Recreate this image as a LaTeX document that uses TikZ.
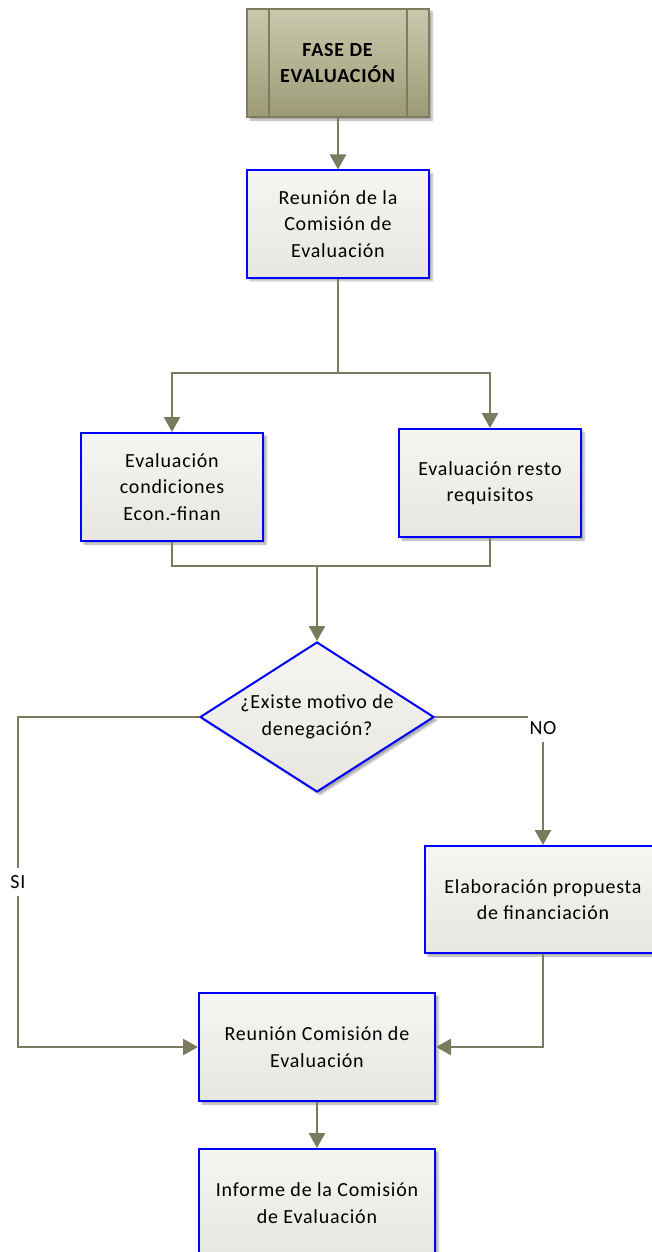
\documentclass[tikz,border=0pt]{standalone}
\usepackage{fontspec}
\setmainfont{Carlito}[LetterSpace=4.0]
\usetikzlibrary{arrows.meta,shapes.geometric,shadows.blur}

\definecolor{flowline}{RGB}{122,122,94}
\definecolor{boxblue}{RGB}{0,0,255}
\definecolor{boxtop}{RGB}{246,245,242}
\definecolor{boxbot}{RGB}{232,230,225}
\definecolor{fasetop}{RGB}{202,201,174}
\definecolor{fasebot}{RGB}{156,155,118}
\definecolor{faseline}{RGB}{125,124,92}

\tikzset{
  boxfont/.style={font=\fontsize{20}{26.5}\selectfont},
  boxshadow/.style={blur shadow={shadow xshift=3pt,shadow yshift=-3pt,shadow blur steps=4,shadow opacity=35}},
  procbox/.style={draw=boxblue, line width=2pt, top color=boxtop, bottom color=boxbot,
    minimum width=182pt, minimum height=107pt, align=center, inner sep=2pt, boxfont, boxshadow},
  fasebox/.style={draw=faseline, line width=1.5pt, top color=fasetop, bottom color=fasebot,
    minimum width=182pt, minimum height=108pt, align=center, boxfont, boxshadow,
    path picture={
      \draw[faseline, line width=1.5pt] ([xshift=22pt]path picture bounding box.north west) -- ([xshift=22pt]path picture bounding box.south west);
      \draw[faseline, line width=1.5pt] ([xshift=-22pt]path picture bounding box.north east) -- ([xshift=-22pt]path picture bounding box.south east);
    }},
  decision/.style={diamond, draw=boxblue, line width=2pt, top color=boxtop, bottom color=boxbot,
    minimum width=234pt, minimum height=150pt, aspect=1.56, inner sep=0pt, align=center, boxfont, boxshadow},
  conn/.style={draw=flowline, line width=2.5pt},
  flow/.style={conn, -{Triangle[length=15pt,width=16pt]}},
  lbl/.style={fill=white, inner sep=2pt, minimum height=28pt, text=black, font=\fontsize{20}{22}\selectfont}
}

\begin{document}
\begin{tikzpicture}[x=1pt,y=-1pt]
% Page size of the reference
\useasboundingbox (0,0) rectangle (652,1252);

% Boxes
\node[fasebox] (fase) at (338,63) {\textbf{FASE DE}\\\textbf{EVALUACIÓN}};
\node[procbox] (reunion) at (338,224) {Reunión de la\\Comisión de\\Evaluación};
\node[procbox, minimum height=108pt] (econ) at (172,487) {Evaluación\\condiciones\\Econ.-finan};
\node[procbox, minimum height=108pt] (resto) at (490,483) {Evaluación resto\\requisitos};
\node[decision] (motivo) at (317,717) {¿Existe motivo de\\denegación?};
\node[procbox, minimum width=236pt] (propuesta) at (543,899.5) {Elaboración propuesta\\de financiación};
\node[procbox, minimum width=236pt, minimum height=108pt] (comision) at (317,1047) {Reunión Comisión de\\Evaluación};
\node[procbox, minimum width=236pt, minimum height=108pt] (informe) at (317,1203) {Informe de la Comisión\\de Evaluación};

% Split and merge points
\coordinate (split) at (338,373);
\coordinate (merge) at (317,566);
\coordinate (sicorner) at (18,1047);

% Connectors
\draw[flow] (fase) -- (reunion);
\draw[flow] (reunion.south) -- (split) -| (econ.north);
\draw[flow] (split) -| (resto.north);
\draw[conn] (resto.south) |- (merge);
\draw[flow] (econ.south) |- (merge) -- (motivo.north);
\draw[flow] (motivo.west) -| node[pos=0.75, lbl] (si) {SI} (sicorner) -- (comision.west);
\draw[flow] (motivo.east) -| node[pos=0.5, lbl, yshift=-11pt] (no) {NO} (propuesta.north);
\draw[flow] (propuesta.south) |- (comision.east);
\draw[flow] (comision) -- (informe);
\end{tikzpicture}
\end{document}
